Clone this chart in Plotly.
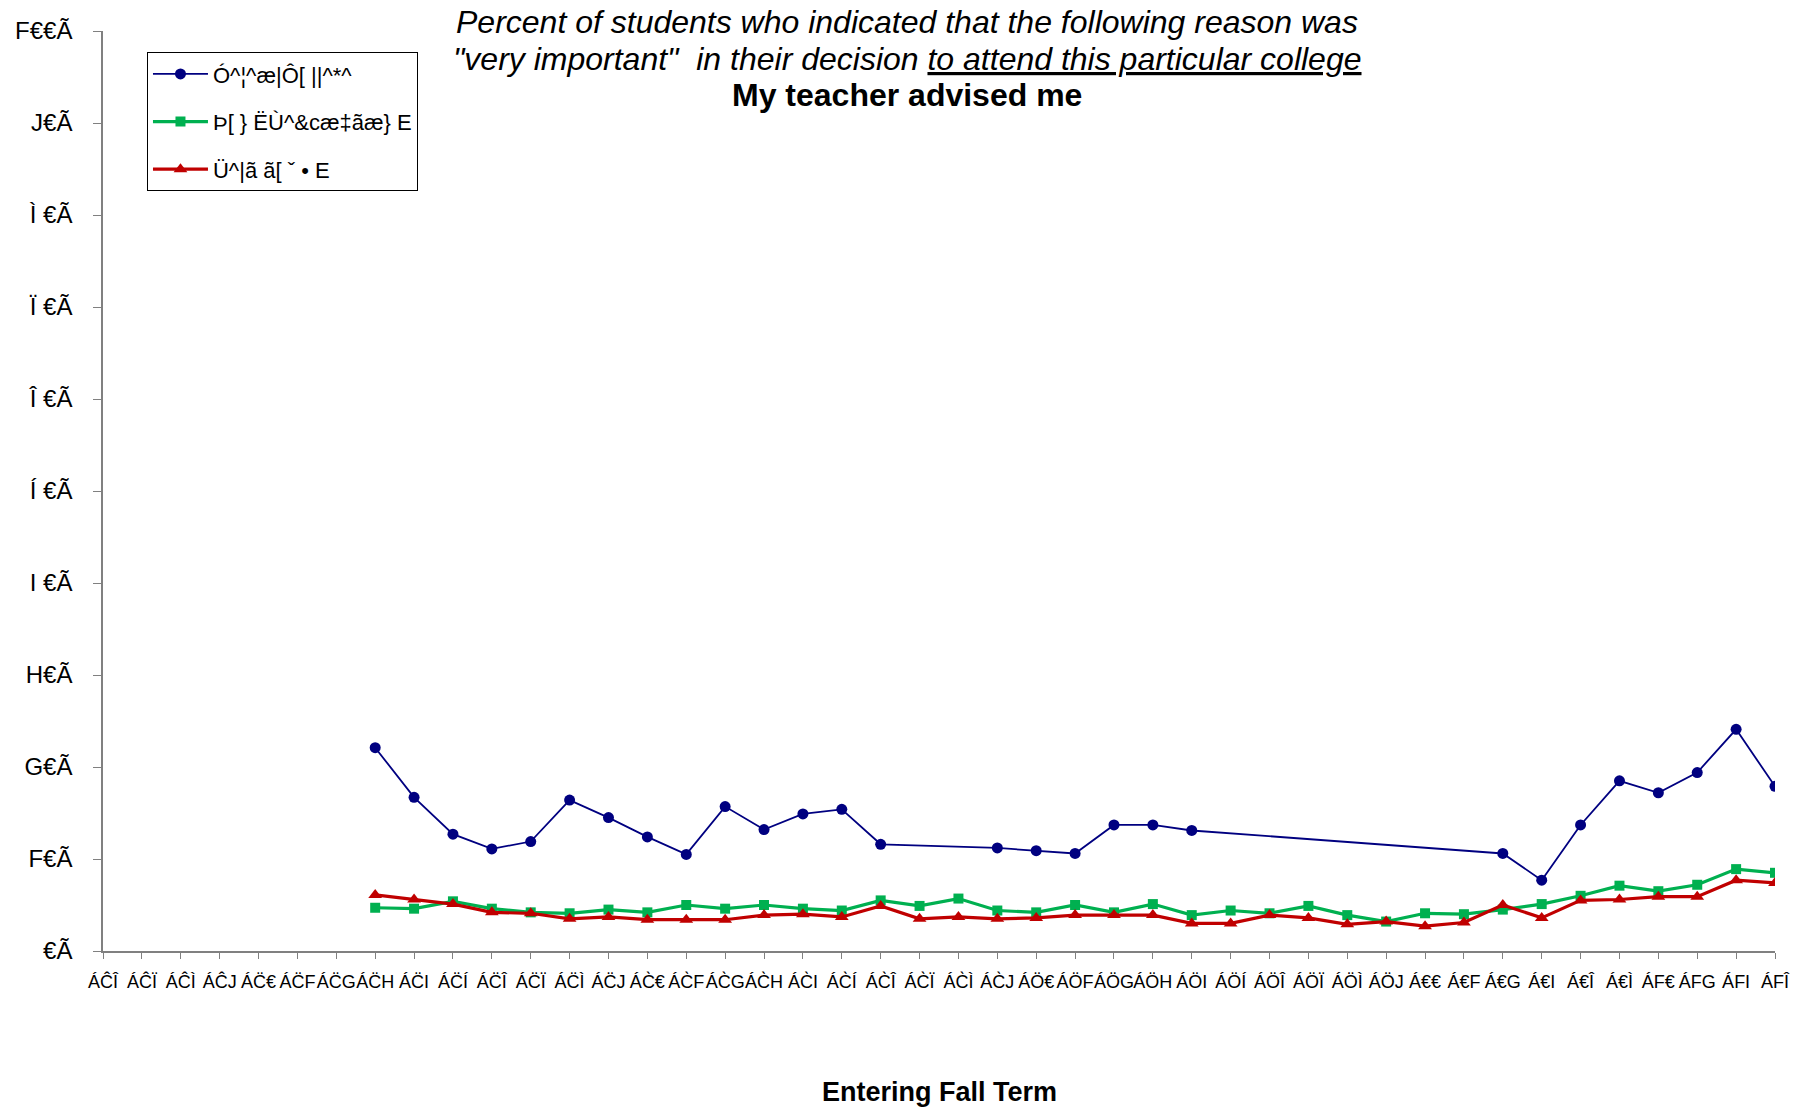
import plotly.graph_objects as go

# Entering fall terms (annual through 2002, then every other year)
years = [str(y) for y in range(1966, 2003)] + [str(y) for y in range(2004, 2017, 2)]

# Tick labels as they appear on the category axis
year_labels = (
    ["ÁĈÎ", "ÁĈÏ", "ÁĈÌ", "ÁĈJ"]
    + ["ÁC\u0308" + d for d in ["€", "F", "G", "H", "I", "Í", "Î", "Ï", "Ì", "J"]]
    + ["ÁC\u0300" + d for d in ["€", "F", "G", "H", "I", "Í", "Î", "Ï", "Ì", "J"]]
    + ["ÁÖ" + d for d in ["€", "F", "G", "H", "I", "Í", "Î", "Ï", "Ì", "J"]]
    + ["Á€€", "Á€F", "Á€G", "Á€I", "Á€Î", "Á€Ì"]
    + ["ÁF€", "ÁFG", "ÁFI", "ÁFÎ"]
)

y_tick_vals = [0, 10, 20, 30, 40, 50, 60, 70, 80, 90, 100]
y_tick_text = ["€Ã", "F€Ã", "G€Ã", "H€Ã", "I €Ã", "Í €Ã", "Î €Ã", "Ï €Ã", "Ì €Ã", "J€Ã", "F€€Ã"]

series_names = ["Ó^¦^æ|Ô[ ||^*^", "Þ[ } ËÙ^&cæ‡ãæ} E", "Ü^|ã ã[ ˇ • E"]

N = None
# Percent "very important": series 1 (no data before 1973, in 1987-88 and 1995-2001)
s1 = [N] * 7 + [22.1, 16.7, 12.7, 11.1, 11.9, 16.4, 14.5, 12.4, 10.5, 15.7,
                13.2, 14.9, 15.4, 11.6, N, N, 11.2, 10.9, 10.6, 13.7, 13.7, 13.1,
                N, N, N, N, N, N, N,
                10.6, 7.7, 13.7, 18.5, 17.2, 19.4, 24.1, 17.9]
s2 = [N] * 7 + [4.7, 4.6, 5.4, 4.6, 4.2, 4.1, 4.5, 4.2, 5.0, 4.6,
                5.0, 4.6, 4.4, 5.5, 4.9, 5.7, 4.4, 4.2, 5.0, 4.2, 5.1, 3.9,
                4.4, 4.1, 4.9, 3.9, 3.2, 4.1, 4.0,
                4.5, 5.1, 6.0, 7.1, 6.5, 7.2, 8.9, 8.5]
s3 = [N] * 7 + [6.1, 5.6, 5.1, 4.2, 4.1, 3.5, 3.7, 3.4, 3.4, 3.4,
                3.9, 4.0, 3.7, 4.9, 3.5, 3.7, 3.5, 3.6, 3.9, 3.9, 3.9, 3.0,
                3.0, 3.9, 3.6, 2.9, 3.2, 2.7, 3.1,
                5.0, 3.6, 5.5, 5.6, 5.9, 5.9, 7.7, 7.4]

FONT = "Liberation Sans, Arial, sans-serif"

fig = go.Figure()
styles = [
    dict(color="#000080", width=1.8, symbol="circle", size=11),
    dict(color="#00B050", width=3.2, symbol="square", size=10),
    dict(color="#C00000", width=3.2, symbol="triangle-up", size=12),
]
for name, vals, st, grp in zip(series_names, [s1, s2, s3], styles, ["a", "b", "c"]):
    fig.add_trace(go.Scatter(
        x=years, y=vals, name=name, mode="lines+markers",
        connectgaps=True, legendgroup=grp,
        line=dict(color=st["color"], width=st["width"]),
        marker=dict(color=st["color"], symbol=st["symbol"], size=st["size"]),
    ))

fig.update_layout(
    width=1801, height=1107,
    margin=dict(l=103, r=26, t=31, b=156),
    paper_bgcolor="white", plot_bgcolor="white",
    font=dict(family=FONT, color="black"),
    showlegend=True,
    legend=dict(
        x=0.0263, y=0.977, xanchor="left", yanchor="top",
        bordercolor="black", borderwidth=1, bgcolor="white",
        font=dict(size=22, family=FONT),
        traceorder="grouped", tracegroupgap=16,
        itemwidth=55, entrywidth=282,
    ),
    xaxis=dict(
        type="category", categoryorder="array", categoryarray=years,
        tickmode="array", tickvals=years, ticktext=year_labels,
        range=[0, len(years) - 1],
        showgrid=False, zeroline=False,
        showline=True, linecolor="#808080", linewidth=1.5,
        ticks="outside", ticklen=6, tickcolor="#808080",
        ticklabelstandoff=8,
        tickangle=0, tickfont=dict(size=18, family=FONT),
    ),
    yaxis=dict(
        range=[0, 100], tickmode="array", tickvals=y_tick_vals, ticktext=y_tick_text,
        showgrid=False, zeroline=False,
        showline=True, linecolor="#808080", linewidth=1.5,
        ticks="outside", ticklen=8, tickcolor="#808080",
        ticklabelstandoff=16,
        tickfont=dict(size=24, family=FONT),
    ),
)

title_x = 0.481
fig.add_annotation(
    text="<i>Percent of students who indicated that the following reason was</i>",
    xref="paper", yref="paper", x=title_x, y=1.0098, xanchor="center", yanchor="middle",
    showarrow=False, font=dict(size=32, family=FONT),
)
fig.add_annotation(
    text="<i>\"very important\"  in their decision <u>to attend this particular college</u></i>",
    xref="paper", yref="paper", x=title_x, y=0.9696, xanchor="center", yanchor="middle",
    showarrow=False, font=dict(size=32, family=FONT),
)
fig.add_annotation(
    text="<b>My teacher advised me</b>",
    xref="paper", yref="paper", x=title_x, y=0.930, xanchor="center", yanchor="middle",
    showarrow=False, font=dict(size=32, family=FONT),
)
fig.add_annotation(
    text="<b>Entering Fall Term</b>",
    xref="paper", yref="paper", x=0.5, y=-0.1533, xanchor="center", yanchor="middle",
    showarrow=False, font=dict(size=27, family=FONT),
)

fig.write_html("out.html")
